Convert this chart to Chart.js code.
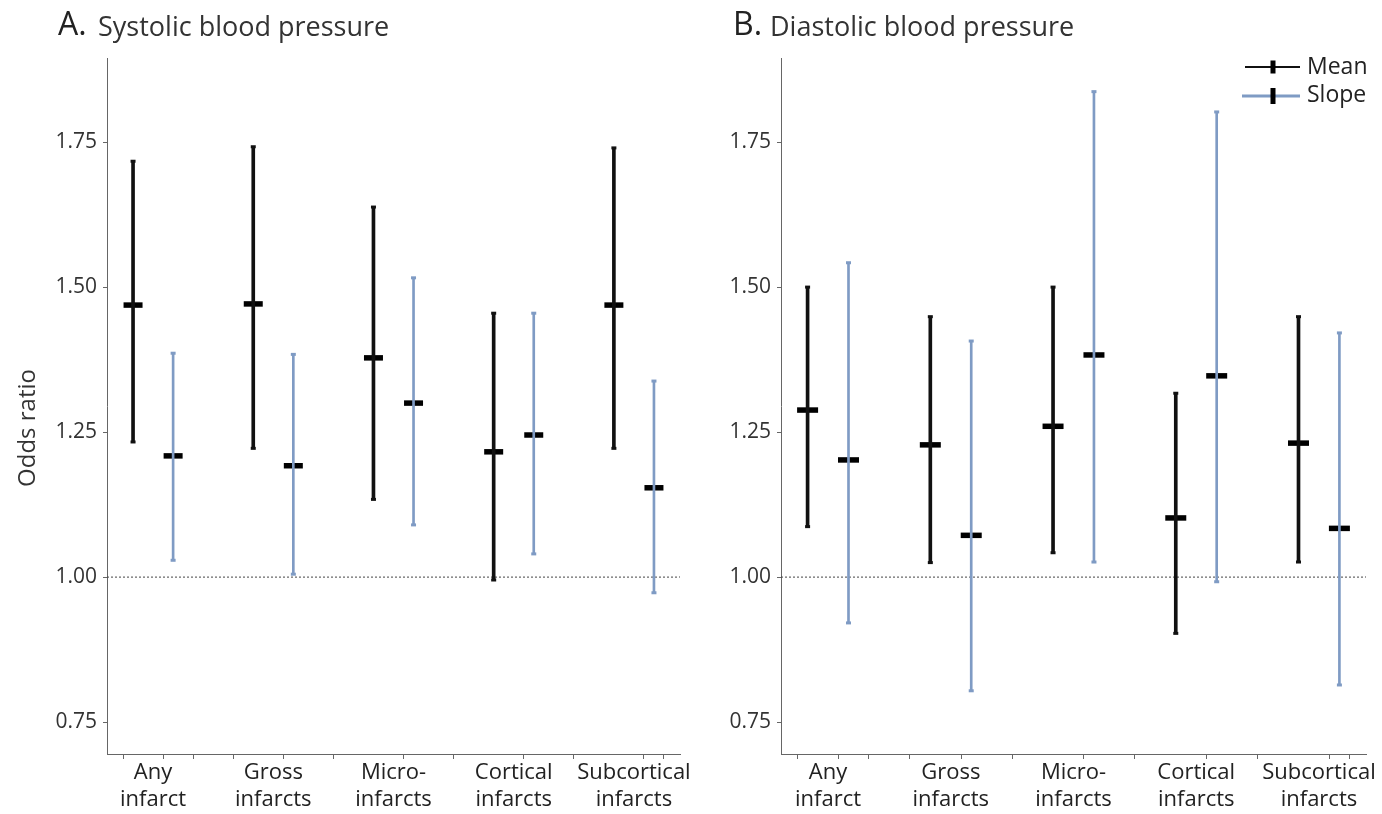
<!DOCTYPE html>
<html>
<head>
<meta charset="utf-8">
<script src="https://cdn.jsdelivr.net/npm/chart.js@4.4.0/dist/chart.umd.min.js"></script>
<style>
  body { margin: 0; background: #fff; }
  #wrap { position: relative; width: 1382px; height: 814px; }
  canvas { position: absolute; top: 0; }
  #chartA { left: 0; }
  #chartB { left: 700px; }
</style>
</head>
<body>
<div id="wrap">
  <canvas id="chartA" width="700" height="814"></canvas>
  <canvas id="chartB" width="682" height="814"></canvas>
</div>
<script>
// categories on the x axis
const categories = [
  ['Any', 'infarct'],
  ['Gross', 'infarcts'],
  ['Micro-', 'infarcts'],
  ['Cortical', 'infarcts'],
  ['Subcortical', 'infarcts']
];
const yTicks = [0.75, 1.00, 1.25, 1.50, 1.75];

// A. systolic
const sysMeanEst  = [1.469, 1.471, 1.378, 1.216, 1.469];
const sysMeanLo   = [1.233, 1.222, 1.134, 0.995, 1.222];
const sysMeanHi   = [1.717, 1.742, 1.638, 1.455, 1.740];
const sysSlopeEst = [1.209, 1.192, 1.300, 1.245, 1.154];
const sysSlopeLo  = [1.029, 1.005, 1.090, 1.040, 0.973];
const sysSlopeHi  = [1.386, 1.384, 1.516, 1.455, 1.338];

// B. diastolic
const diaMeanEst  = [1.288, 1.228, 1.260, 1.102, 1.231];
const diaMeanLo   = [1.087, 1.025, 1.042, 0.903, 1.026];
const diaMeanHi   = [1.500, 1.449, 1.500, 1.317, 1.449];
const diaSlopeEst = [1.202, 1.072, 1.383, 1.347, 1.084];
const diaSlopeLo  = [0.921, 0.804, 1.026, 0.992, 0.814];
const diaSlopeHi  = [1.542, 1.407, 1.837, 1.802, 1.421];

const refValue = 1.00;

Chart.defaults.font.family = "'Open Sans', sans-serif";
Chart.defaults.color = '#333';

const BLUE = '#7f9bc4';
const AXIS = '#666';
const X_MIN = -0.65, X_MAX = 13.65;

// x positions: group i -> mean at 3i, slope at 3i+1
const meanX = categories.map((c, i) => 3 * i);
const slopeX = categories.map((c, i) => 3 * i + 1);
const labelX = categories.map((c, i) => 3 * i + 0.5);
const tickMarks = [...meanX, ...slopeX, 2];

const textPlugin = {
  id: 'panelText',
  afterDraw(chart, args, o) {
    const ctx = chart.ctx;
    ctx.save();
    ctx.textBaseline = 'alphabetic';
    ctx.fillStyle = '#222';
    ctx.font = "32px 'Open Sans'";
    ctx.fillText(o.letter, o.letterX, 35);
    ctx.fillStyle = '#333';
    ctx.font = "27px 'Open Sans'";
    ctx.fillText(o.title, o.titleX, 36);
    if (o.ylabel) {
      ctx.translate(28, 428);
      ctx.rotate(-Math.PI / 2);
      ctx.textAlign = 'center';
      ctx.textBaseline = 'middle';
      ctx.font = "24px 'Open Sans'";
      ctx.fillText(o.ylabel, 0, 0);
      ctx.setTransform(1, 0, 0, 1, 0, 0);
    }
    if (o.legend) {
      const lx = 545, rx = 600, mx = 573;
      // Mean
      ctx.strokeStyle = '#111';
      ctx.lineWidth = 2;
      ctx.beginPath(); ctx.moveTo(lx, 67); ctx.lineTo(rx, 67); ctx.stroke();
      ctx.fillStyle = '#000';
      ctx.fillRect(mx - 2.5, 60.5, 5, 13);
      // Slope
      ctx.strokeStyle = BLUE;
      ctx.lineWidth = 3;
      ctx.beginPath(); ctx.moveTo(lx - 3, 96); ctx.lineTo(rx, 96); ctx.stroke();
      ctx.fillRect(mx - 2.5, 88, 5, 16);
      ctx.fillStyle = '#222';
      ctx.font = "23px 'Open Sans'";
      ctx.textBaseline = 'middle';
      ctx.fillText('Mean', 607, 67);
      ctx.fillText('Slope', 607, 95);
    }
    ctx.restore();
  }
};

function pts(xs, ys) {
  return ys.map((v, i) => ({ x: xs[i], y: v }));
}

function errorChart(id, p) {
  const pointSet = (data, color, radius, width, order) => ({
    type: 'scatter', data: data,
    pointStyle: 'line', pointRadius: radius, pointHoverRadius: radius,
    pointBorderWidth: width, pointHoverBorderWidth: width,
    pointBorderColor: color, pointBackgroundColor: color,
    showLine: false, order: order
  });
  return new Chart(document.getElementById(id), {
    type: 'bar',
    data: {
      datasets: [
        pointSet([...pts(slopeX, p.slopeLo), ...pts(slopeX, p.slopeHi)], BLUE, 2.5, 3, 0),
        {
          type: 'bar', order: 1, grouped: false, barThickness: 2,
          backgroundColor: BLUE, borderWidth: 0,
          data: p.slopeLo.map((lo, i) => ({ x: slopeX[i], y: [lo, p.slopeHi[i]] }))
        },
        pointSet(pts(slopeX, p.slopeEst), '#000', p.markR, 5.5, 2),
        pointSet([...pts(meanX, p.meanLo), ...pts(meanX, p.meanHi)], '#111', 2.5, 3, 3),
        {
          type: 'bar', order: 4, grouped: false, barThickness: 3,
          backgroundColor: '#111', borderWidth: 0,
          data: p.meanLo.map((lo, i) => ({ x: meanX[i], y: [lo, p.meanHi[i]] }))
        },
        pointSet(pts(meanX, p.meanEst), '#000', p.markR, 5.5, 5),
        {
          type: 'line', order: 6,
          data: [{ x: X_MIN, y: refValue }, { x: X_MAX, y: refValue }],
          borderColor: '#444', borderWidth: 1, borderDash: [2, 2], pointRadius: 0
        }
      ]
    },
    options: {
      responsive: false,
      animation: false,
      events: [],
      layout: { padding: { top: 58, right: p.padRight, bottom: 0, left: 0 } },
      plugins: {
        legend: { display: false },
        tooltip: { enabled: false },
        panelText: p.text
      },
      scales: {
        x: {
          type: 'linear', min: X_MIN, max: X_MAX, offset: false,
          afterBuildTicks: (s) => {
            s.ticks = [...tickMarks, ...labelX].sort((a, b) => a - b).map(v => ({ value: v }));
          },
          afterFit: (s) => { s.height = 60; },
          ticks: {
            autoSkip: false, maxRotation: 0, minRotation: 0, padding: 1,
            color: '#222',
            font: { size: 22, lineHeight: 1.2 },
            callback: (v) => {
              const k = labelX.indexOf(v);
              return k >= 0 ? categories[k] : '';
            }
          },
          grid: {
            drawOnChartArea: false, drawTicks: true, tickLength: 5,
            tickColor: (c) => (c.tick && labelX.includes(c.tick.value)) ? 'rgba(0,0,0,0)' : AXIS
          },
          border: { display: true, color: AXIS, width: 1 }
        },
        y: {
          type: 'linear', min: 0.695, max: 1.895,
          afterBuildTicks: (s) => { s.ticks = yTicks.map(v => ({ value: v })); },
          afterFit: (s) => { s.width = p.yWidth; },
          ticks: {
            padding: 6, color: '#333',
            font: { size: 21 },
            callback: (v) => v.toFixed(2)
          },
          grid: { drawOnChartArea: false, drawTicks: true, tickLength: 4, tickColor: AXIS },
          border: { display: true, color: AXIS, width: 1 }
        }
      }
    },
    plugins: [textPlugin]
  });
}

errorChart('chartA', {
  meanEst: sysMeanEst, meanLo: sysMeanLo, meanHi: sysMeanHi,
  slopeEst: sysSlopeEst, slopeLo: sysSlopeLo, slopeHi: sysSlopeHi,
  yWidth: 107, padRight: 20, markR: 9.5,
  text: { letter: 'A.', letterX: 58, title: 'Systolic blood pressure', titleX: 98, ylabel: 'Odds ratio', legend: false }
});

errorChart('chartB', {
  meanEst: diaMeanEst, meanLo: diaMeanLo, meanHi: diaMeanHi,
  slopeEst: diaSlopeEst, slopeLo: diaSlopeLo, slopeHi: diaSlopeHi,
  yWidth: 81, padRight: 12, markR: 10.5,
  text: { letter: 'B.', letterX: 33, title: 'Diastolic blood pressure', titleX: 70, ylabel: null, legend: true }
});
</script>
</body>
</html>
